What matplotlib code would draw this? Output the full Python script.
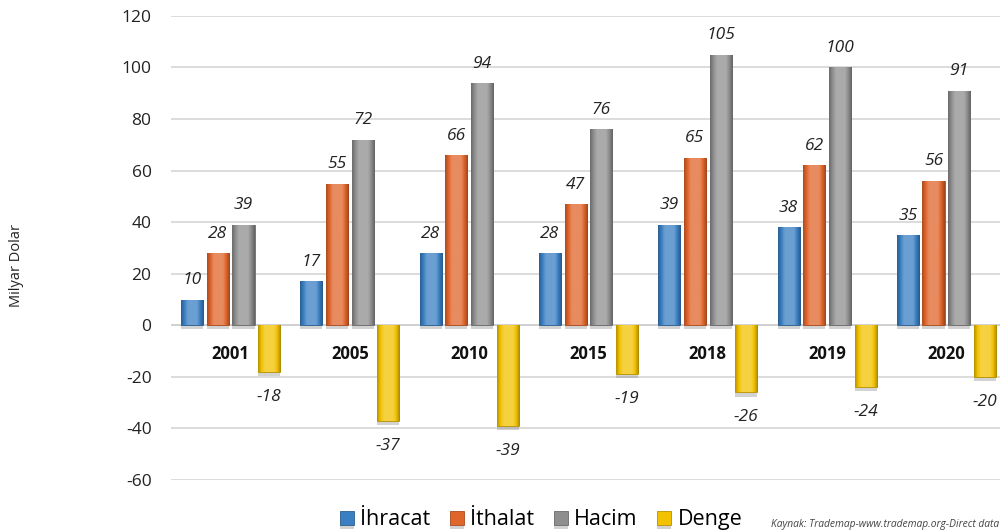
import matplotlib
matplotlib.use("Agg")
import matplotlib.pyplot as plt
import matplotlib.patheffects as pe
import numpy as np
from matplotlib.colors import to_rgb

plt.rcParams['font.family'] = ['Open Sans', 'DejaVu Sans']

years = ["2001", "2005", "2010", "2015", "2018", "2019", "2020"]
ihracat = [10, 17, 28, 28, 39, 38, 35]
ithalat = [28, 55, 66, 47, 65, 62, 56]
hacim = [39, 72, 94, 76, 105, 100, 91]
denge = [-18, -37, -39, -19, -26, -24, -20]
series_names = ["İhracat", "İthalat", "Hacim", "Denge"]
series_values = [ihracat, ithalat, hacim, denge]
colors = ["#3a7fc2", "#e0652b", "#8e8e8e", "#f2c200"]
yticks = [-60, -40, -20, 0, 20, 40, 60, 80, 100, 120]

fig = plt.figure(figsize=(10, 5.31), dpi=100)
ax = fig.add_axes([0.171, 0.096, 0.835, 0.874])

x = np.arange(len(years))
step = 0.215
width = 0.185

def shade(c, f):
    r = np.array(to_rgb(c))
    if f >= 0:
        return r + (1 - r) * f
    return r * (1 + f)

handles = []
for i, (name, vals, col) in enumerate(zip(series_names, series_values, colors)):
    off = (i - 1.5) * step
    bars = ax.bar(x + off, vals, width, color=col, edgecolor=shade(col, -0.25),
                  linewidth=0.6, zorder=3, label=name,
                  path_effects=[pe.SimplePatchShadow(offset=(0, -3), shadow_rgbFace=(0.5, 0.5, 0.5), alpha=0.35), pe.Normal()])
    handles.append(bars)
    prof = np.concatenate([np.linspace(-0.25, 0.25, 20), np.full(24, 0.25), np.linspace(0.25, -0.3, 20)])
    img = np.array([shade(col, p) for p in prof])[None, :, :]
    for b, v in zip(bars, vals):
        bx, by, bw, bh = b.get_x(), b.get_y(), b.get_width(), b.get_height()
        im = ax.imshow(img, extent=[bx, bx + bw, by, by + bh], aspect='auto',
                       zorder=3.5, interpolation='bilinear')
        im.set_clip_path(b)
        dy = 14 if v >= 0 else -18
        ax.annotate(f"{v}", (bx + bw / 2, v), xytext=(0, dy), textcoords='offset points',
                    ha='center', va='center', fontsize=12.5, style='italic', color='#222222')

for xi, yr in zip(x, years):
    ax.text(xi, -11, yr, ha='center', va='center', fontsize=12, fontweight='bold', color='#111111', zorder=5)

ax.set_xlim(-0.5, 6.5)
ax.set_ylim(-60, 120)
ax.set_yticks(yticks)
ax.set_yticklabels([str(t) for t in yticks], fontsize=12.5, color='#222222')
ax.set_xticks([])
ax.tick_params(axis='y', length=0, pad=14)
ax.grid(axis='y', color='#d9d9d9', linewidth=1.3, zorder=0)
ax.set_axisbelow(True)
for s in ax.spines.values():
    s.set_visible(False)
ax.axhline(0, color='#d0d0d0', linewidth=1.3, zorder=2)

fig.text(0.017, 0.5, "Milyar Dolar", rotation=90, ha='center', va='center', fontsize=10.5, color='#222222')

leg = fig.legend(handles=handles, labels=series_names, loc='center', bbox_to_anchor=(0.541, 0.021),
                 ncol=4, frameon=False, fontsize=15.5, handlelength=0.65, handleheight=0.65,
                 handletextpad=0.3, columnspacing=0.9)

fig.text(0.771, 0.002, "Kaynak: Trademap-www.trademap.org-Direct data", fontsize=7.4, style='italic',
         color='#444444', ha='left', va='bottom')

fig.savefig("out.png", dpi=100)
